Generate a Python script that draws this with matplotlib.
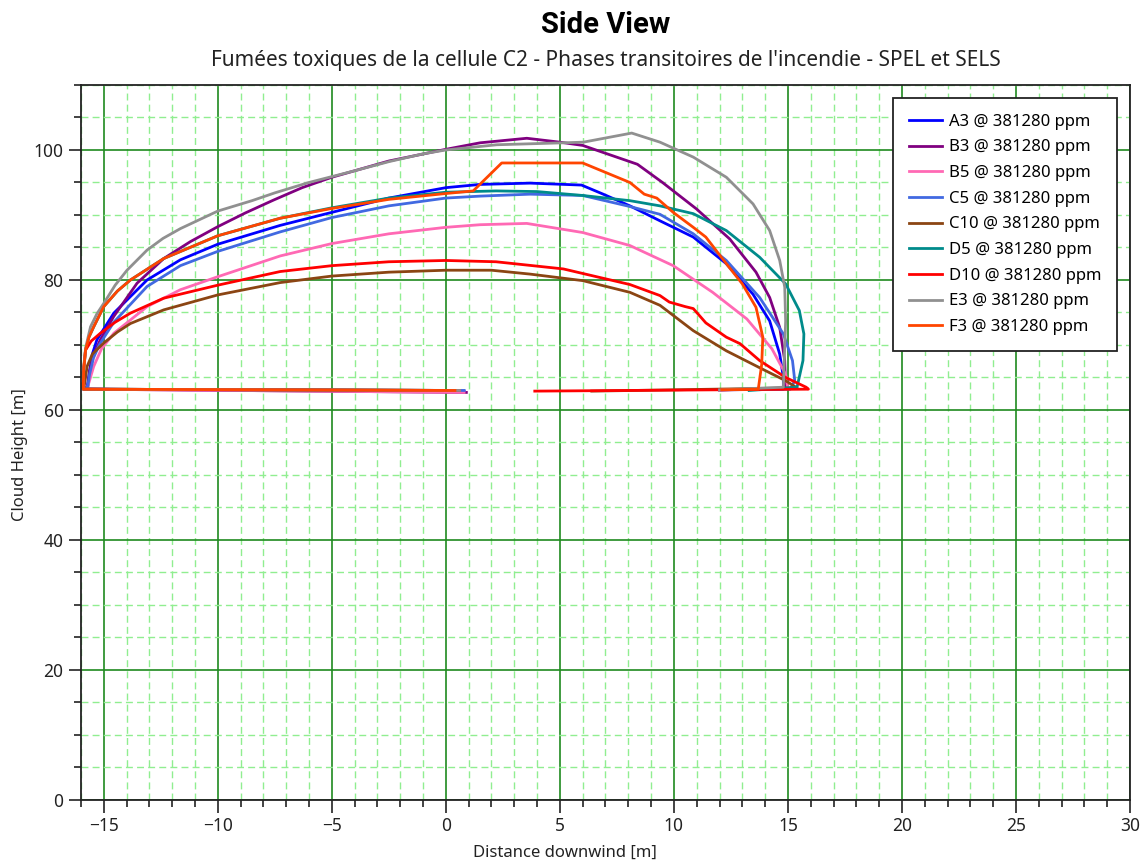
import matplotlib.pyplot as plt
from matplotlib.ticker import MultipleLocator

plt.rcParams['font.family'] = ['Noto Sans', 'DejaVu Sans']

# Cloud outlines at 381280 ppm (distance downwind [m], cloud height [m])
A3_X = [0.8, -15.85, -15.72, -15.62, -15.5, -15.3, -14.56, -13.1, -11.64, -10, -7.26, -5, -2.5, 0, 1.5, 3.7, 5.95, 6.9, 8.07, 9.39, 10.85, 12.3, 13.47, 14.2, 14.64, 14.8, 14.8, 12.0]
A3_Y = [62.9, 63.2, 63.6, 66.0, 68.6, 70.8, 74.9, 80.0, 83.1, 85.5, 88.4, 90.4, 92.6, 94.2, 94.7, 94.9, 94.6, 93.2, 91.4, 89.1, 86.6, 82.5, 77.8, 73.7, 68.6, 65.0, 63.2, 63.1]

B3_X = [0.9, -15.85, -15.7, -15.62, -15.45, -15.15, -14.56, -13.54, -12.37, -11.2, -10, -8.8, -7.55, -6.3, -5, -2.5, 0, 1.5, 3.55, 5.0, 6.0, 8.4, 9.5, 11.0, 12.45, 13.6, 14.2, 14.64, 14.86, 14.9, 12.0]
B3_Y = [62.7, 63.2, 63.6, 66.0, 68.5, 70.8, 74.4, 79.5, 83.3, 85.9, 88.2, 90.3, 92.3, 94.2, 95.8, 98.3, 100.1, 101.1, 101.8, 101.2, 100.7, 97.8, 95.0, 90.9, 86.3, 81.2, 77.3, 72.7, 67.6, 63.3, 63.1]

B5_X = [0.8, -15.85, -15.7, -15.6, -15.44, -15.1, -14.56, -13.1, -11.64, -10, -7.26, -5, -2.5, 0, 1.5, 3.55, 6.0, 8.07, 9.97, 11.7, 13.2, 14.3, 14.9, 15.0, 12.0]
B5_Y = [62.7, 63.2, 63.6, 64.8, 66.7, 69.4, 71.8, 75.9, 78.5, 80.5, 83.7, 85.6, 87.1, 88.1, 88.5, 88.7, 87.3, 85.3, 82.2, 78.1, 74.0, 69.4, 65.5, 63.3, 63.1]

C5_X = [0.8, -15.85, -15.7, -15.62, -15.45, -15.2, -14.56, -13.1, -11.64, -10, -7.26, -5, -2.5, 0, 1.5, 3.7, 6.0, 8.07, 9.39, 10.85, 12.3, 13.76, 14.8, 15.2, 15.3, 15.1, 12.0]
C5_Y = [63.0, 63.2, 63.6, 65.5, 68.0, 70.0, 73.5, 79.0, 82.2, 84.4, 87.4, 89.6, 91.4, 92.6, 92.9, 93.2, 93.0, 91.3, 90.1, 87.1, 83.0, 77.3, 71.7, 67.6, 64.5, 63.2, 63.1]

C10_X = [0.5, -15.9, -15.85, -15.8, -15.73, -15.5, -15.0, -14.4, -13.83, -12.37, -10, -7.26, -5, -2.5, 0, 2.0, 3.7, 6.0, 8.07, 9.39, 10.85, 12.3, 13.76, 14.9, 15.4, 6.4]
C10_Y = [63.0, 63.2, 63.8, 65.0, 66.7, 68.6, 70.3, 72.0, 73.3, 75.4, 77.7, 79.6, 80.6, 81.2, 81.5, 81.5, 80.9, 79.9, 78.1, 76.1, 72.2, 69.1, 66.5, 64.5, 63.4, 62.9]

D5_X = [0.5, -15.9, -15.88, -15.8, -15.65, -15.44, -15.0, -14.4, -13.83, -12.37, -10, -7.26, -5, -2.5, 0, 2.2, 4.0, 6.0, 8.07, 9.39, 10.85, 12.3, 13.76, 14.9, 15.5, 15.7, 15.66, 15.4, 13.3]
D5_Y = [63.0, 63.2, 66.0, 69.2, 71.2, 72.8, 75.9, 78.3, 80.0, 83.3, 86.8, 89.5, 91.1, 92.6, 93.5, 93.7, 93.6, 93.0, 92.2, 91.4, 90.2, 87.6, 83.5, 79.4, 75.3, 71.7, 67.6, 63.5, 63.0]

D10_X = [0.6, -15.9, -15.88, -15.8, -15.55, -15.15, -14.5, -13.83, -12.37, -10, -7.26, -5, -2.5, 0, 2.2, 5.15, 8.07, 9.39, 9.8, 10.5, 10.85, 11.4, 12.3, 12.9, 13.76, 14.9, 15.8, 15.9, 3.9]
D10_Y = [63.0, 63.2, 66.5, 69.2, 70.6, 71.8, 73.5, 74.9, 77.2, 79.2, 81.3, 82.2, 82.8, 83.0, 82.8, 81.7, 79.3, 77.6, 76.6, 75.9, 75.6, 73.4, 71.2, 70.2, 67.6, 65.0, 63.5, 63.2, 62.9]

E3_X = [0.6, -15.9, -15.88, -15.8, -15.58, -15.3, -15.0, -14.5, -13.98, -13.1, -12.4, -11.64, -10, -8.5, -7.5, -6, -5, -4, -2.5, -1, 0, 2.23, 5.15, 6.03, 8.15, 9.39, 10.85, 12.3, 13.47, 14.2, 14.64, 14.86, 14.9, 14.8, 12.0]
E3_Y = [63.0, 63.2, 66.0, 69.5, 72.8, 74.8, 76.4, 79.2, 81.5, 84.6, 86.4, 87.9, 90.6, 92.2, 93.4, 95.0, 95.9, 96.8, 98.2, 99.4, 100.0, 100.8, 101.1, 101.2, 102.6, 101.2, 98.9, 95.8, 91.7, 87.6, 83.0, 78.9, 73.7, 63.5, 63.1]

F3_X = [0.4, -15.9, -15.88, -15.8, -15.65, -15.44, -15.0, -14.4, -13.83, -12.37, -10, -7.26, -5, -2.5, 0, 1.2, 2.45, 6.0, 8.07, 8.7, 9.25, 9.97, 10.85, 11.4, 12.3, 13.0, 13.6, 13.9, 13.85, 13.7, 12.1]
F3_Y = [63.0, 63.2, 66.0, 69.2, 71.2, 72.8, 75.9, 78.3, 80.0, 83.3, 86.8, 89.5, 91.0, 92.4, 93.3, 93.7, 98.0, 98.0, 95.0, 93.2, 92.6, 90.4, 88.1, 86.6, 82.5, 79.4, 75.8, 71.2, 67.0, 63.2, 63.1]

labels = ['A3 @ 381280 ppm', 'B3 @ 381280 ppm', 'B5 @ 381280 ppm', 'C5 @ 381280 ppm',
          'C10 @ 381280 ppm', 'D5 @ 381280 ppm', 'D10 @ 381280 ppm', 'E3 @ 381280 ppm',
          'F3 @ 381280 ppm']
xs = [A3_X, B3_X, B5_X, C5_X, C10_X, D5_X, D10_X, E3_X, F3_X]
ys = [A3_Y, B3_Y, B5_Y, C5_Y, C10_Y, D5_Y, D10_Y, E3_Y, F3_Y]
colors = ['#0000ff', '#800080', '#ff69b4', '#4169e1', '#8b4513', '#008b8b', '#ff0000', '#909090', '#ff4500']

fig = plt.figure(figsize=(11.45, 8.67), dpi=100)
ax = fig.add_axes([0.0707, 0.0773, 0.9162, 0.8247])

for x, y, c, lab in zip(xs, ys, colors, labels):
    ax.plot(x, y, color=c, lw=2.0, label=lab, solid_joinstyle='round')

ax.set_xlim(-16, 30)
ax.set_ylim(0, 110)
ax.xaxis.set_major_locator(MultipleLocator(5))
ax.xaxis.set_minor_locator(MultipleLocator(1))
ax.yaxis.set_major_locator(MultipleLocator(20))
ax.yaxis.set_minor_locator(MultipleLocator(5))
ax.grid(which='major', color='#1f8a1f', lw=1.2)
ax.grid(which='minor', color='#90ee90', lw=1.0, ls=(0, (5, 3)))
ax.set_axisbelow(True)
ax.tick_params(which='major', length=9, width=1.2, labelsize=12.5, color='#222222', labelcolor='#222222')
ax.tick_params(which='minor', length=5, width=1.2, color='#222222')
for s in ax.spines.values():
    s.set_color('#222222')
    s.set_linewidth(1.3)

ax.set_xlabel('Distance downwind [m]', fontsize=12, color='#222222')
ax.xaxis.set_label_coords(0.461, -0.063)
ax.set_ylabel('Cloud Height [m]', fontsize=12, color='#222222')
ax.yaxis.set_label_coords(-0.05, 0.483)

fig.text(0.529, 0.971, 'Side View', ha='center', va='center', fontsize=21,
         fontweight='bold', family=['Roboto', 'DejaVu Sans'])
fig.text(0.529, 0.930, "Fumées toxiques de la cellule C2 - Phases transitoires de l'incendie - SPEL et SELS",
         ha='center', va='center', fontsize=15, color='#222222')

leg = ax.legend(loc='upper right', bbox_to_anchor=(0.9876, 0.982), borderaxespad=0,
                fontsize=12, frameon=True, fancybox=False, framealpha=1, edgecolor='#222222',
                handlelength=2.0, handletextpad=0.4, labelspacing=0.58, borderpad=0.95)
leg.get_frame().set_linewidth(1.3)

fig.savefig('out.png', dpi=100)
plt.close(fig)
